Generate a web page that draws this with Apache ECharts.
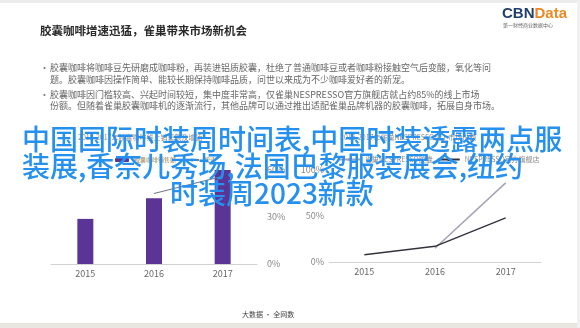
<!DOCTYPE html>
<html>
<head>
  <meta charset="utf-8">
  <script src="https://cdn.jsdelivr.net/npm/echarts@6/dist/echarts.min.js"></script>
  <style>
    html, body { margin: 0; padding: 0; background: #fff; }
    #chart { width: 580px; height: 328px; }
  </style>
</head>
<body>
  <div id="chart"></div>
  <script>
    // 年份
    const years = ['2015', '2016', '2017'];
    // 左图：销售额（柱）和增速（线）
    const salesValues = [48, 70, 100];
    const growthValues = [null, 45, 56];
    const growthTicks = [0, 30, 60];
    // 右图：两条线
    const shareOfficial = [8, 17, 48];
    const shareOther = [null, 15, 86];
    const shareTicks = [0, 50, 100];

    const titleText = '胶囊咖啡增速迅猛，雀巢带来市场新机会';
    const bulletLines = [
      '胶囊咖啡将咖啡豆先研磨成咖啡粉，再装进铝质胶囊，杜绝了普通咖啡豆或者咖啡粉接触空气后变酸，氧化等问',
      '题。胶囊咖啡因操作简单、能较长期保持咖啡品质，问世以来成为不少咖啡爱好者的新宠。',
      '胶囊咖啡因门槛较高、兴起时间较短，集中度非常高，仅雀巢NESPRESSO官方旗舰店就占约85%的线上市场',
      '份额。但随着雀巢胶囊咖啡机的逐渐流行，其他品牌可以通过推出适配雀巢品牌机器的胶囊咖啡，拓展自身市场。'
    ];
    const overlayLines = [
      '中国国际时装周时间表,中国时装透露两点服',
      '装展,香奈儿秀场,法国巴黎服装展会,纽约',
      '时装周2023新款'
    ];
    const sourceText = '大数据 · 全网数';

    const cjk = '"Noto Sans CJK SC", "Noto Sans", sans-serif';
    const myChart = echarts.init(document.getElementById('chart'));

    const axisLabelStyle = { color: '#888', fontSize: 9, fontFamily: cjk };

    let graphics = [
      { type: 'rect', shape: { x: 0, y: 0, width: 580, height: 3 }, style: { fill: '#ececec' }, z: -10 },
      { type: 'rect', shape: { x: 0, y: 323, width: 580, height: 5 }, style: { fill: '#e7e7e0' }, z: -10 },
      { type: 'rect', shape: { x: 577, y: 0, width: 3, height: 328 }, style: { fill: '#f0f0f0' }, z: -10 },
      {
        type: 'text', left: 40, top: 25,
        style: { text: titleText, fill: '#2a2a2a', font: 'bold 11.5px ' + cjk }
      },
      {
        type: 'text', left: 502, top: 6,
        style: {
          text: '{a|CBN}{b|Data}', rich: {
            a: { fill: '#1f3d6d', font: 'bold 15px "Liberation Sans", Arial, sans-serif' },
            b: { fill: '#ea8a24', font: 'bold 15px "Liberation Sans", Arial, sans-serif' }
          }
        }
      },
      {
        type: 'text', left: 503, top: 23,
        style: { text: '第一财经商业数据中心', fill: '#666', font: '5px ' + cjk }
      },
      {
        type: 'text', left: 242, top: 311,
        style: { text: sourceText, fill: '#444', font: '7px ' + cjk }
      },
      {
        type: 'text', left: 78, top: 134,
        style: { text: '2015-2017年胶囊咖啡线上销售额及增速', fill: '#888', font: '7px ' + cjk }
      },
      {
        type: 'text', left: 340, top: 134,
        style: { text: '2015-2017年雀巢NESPRESSO线上市场份额', fill: '#888', font: '7px ' + cjk }
      }
    ];

    const bulletY = [69, 81, 96, 107];
    bulletLines.forEach((line, i) => {
      if (i === 0 || i === 2) {
        graphics.push({
          type: 'text', left: 40, top: bulletY[i] - 6,
          style: { text: '•', fill: '#777', font: '9px ' + cjk }
        });
      }
      graphics.push({
        type: 'text', left: 50, top: bulletY[i] - 6,
        style: { text: line, fill: '#666', font: '9px ' + cjk }
      });
    });

    // 覆盖的蓝色大字
    const overlayX = [22, 22, 170];
    const overlayY = [139, 166, 193];
    overlayLines.forEach((line, i) => {
      graphics.push({
        type: 'text', x: overlayX[i], y: overlayY[i], z: 100,
        style: {
          text: line, fill: '#2590ee', font: '500 28px ' + cjk,
          textVerticalAlign: 'middle'
        }
      });
    });

    let option = {
      backgroundColor: '#fff',
      animation: false,
      graphic: graphics,
      legend: [
        {
          data: ['胶囊咖啡销售额', '增速'],
          left: 110, top: 152,
          itemWidth: 14, itemHeight: 4, itemGap: 8,
          textStyle: { color: '#9b8855', fontSize: 6, fontFamily: cjk }
        },
        {
          data: ['雀巢NESPRESSO胶囊', 'NESPRESSO官方旗舰店'],
          left: 332, top: 151,
          itemWidth: 22, itemHeight: 4, itemGap: 4,
          textStyle: { color: '#8a8a8a', fontSize: 7, fontFamily: cjk }
        }
      ],
      grid: [
        { left: 51, top: 170, width: 206, height: 94 },
        { left: 329, top: 170, width: 212, height: 92 }
      ],
      xAxis: [
        {
          type: 'category', gridIndex: 0, data: years,
          axisLine: { lineStyle: { color: '#d2d2d2' } },
          axisTick: { show: false },
          axisLabel: { color: '#666', fontSize: 9, margin: 5, fontFamily: cjk }
        },
        {
          type: 'category', gridIndex: 1, data: years,
          axisLine: { lineStyle: { color: '#d2d2d2' } },
          axisTick: { show: false },
          axisLabel: { color: '#666', fontSize: 9, margin: 5, fontFamily: cjk }
        }
      ],
      yAxis: [
        { type: 'value', gridIndex: 0, min: 0, max: 100, show: false },
        {
          type: 'value', gridIndex: 0, position: 'right',
          min: growthTicks[0], max: growthTicks[growthTicks.length - 1], interval: 30,
          axisLine: { show: false }, axisTick: { show: false }, splitLine: { show: false },
          axisLabel: Object.assign({ formatter: '{value}%', margin: 10 }, axisLabelStyle)
        },
        {
          type: 'value', gridIndex: 1,
          min: shareTicks[0], max: shareTicks[shareTicks.length - 1], interval: 50,
          axisLine: { show: false }, axisTick: { show: false }, splitLine: { show: false },
          axisLabel: Object.assign({ formatter: '{value}%', margin: 5 }, axisLabelStyle)
        }
      ],
      series: [
        {
          name: '胶囊咖啡销售额', type: 'bar', xAxisIndex: 0, yAxisIndex: 0,
          data: salesValues, barWidth: 16,
          itemStyle: { color: '#5b3596' }
        },
        {
          name: '增速', type: 'line', xAxisIndex: 0, yAxisIndex: 1,
          data: growthValues, symbol: 'none', connectNulls: false,
          lineStyle: { color: '#7a7a88', width: 1.2 }, itemStyle: { color: '#7a7a88' }
        },
        {
          name: '雀巢NESPRESSO胶囊', type: 'line', xAxisIndex: 1, yAxisIndex: 2,
          data: shareOther, symbol: 'none',
          lineStyle: { color: '#a4a2b4', width: 1.5 }, itemStyle: { color: '#a4a2b4' }
        },
        {
          name: 'NESPRESSO官方旗舰店', type: 'line', xAxisIndex: 1, yAxisIndex: 2,
          data: shareOfficial, symbol: 'none',
          lineStyle: { color: '#34323e', width: 1.5 }, itemStyle: { color: '#34323e' }
        }
      ]
    };
    myChart.setOption(option);
  </script>
</body>
</html>
